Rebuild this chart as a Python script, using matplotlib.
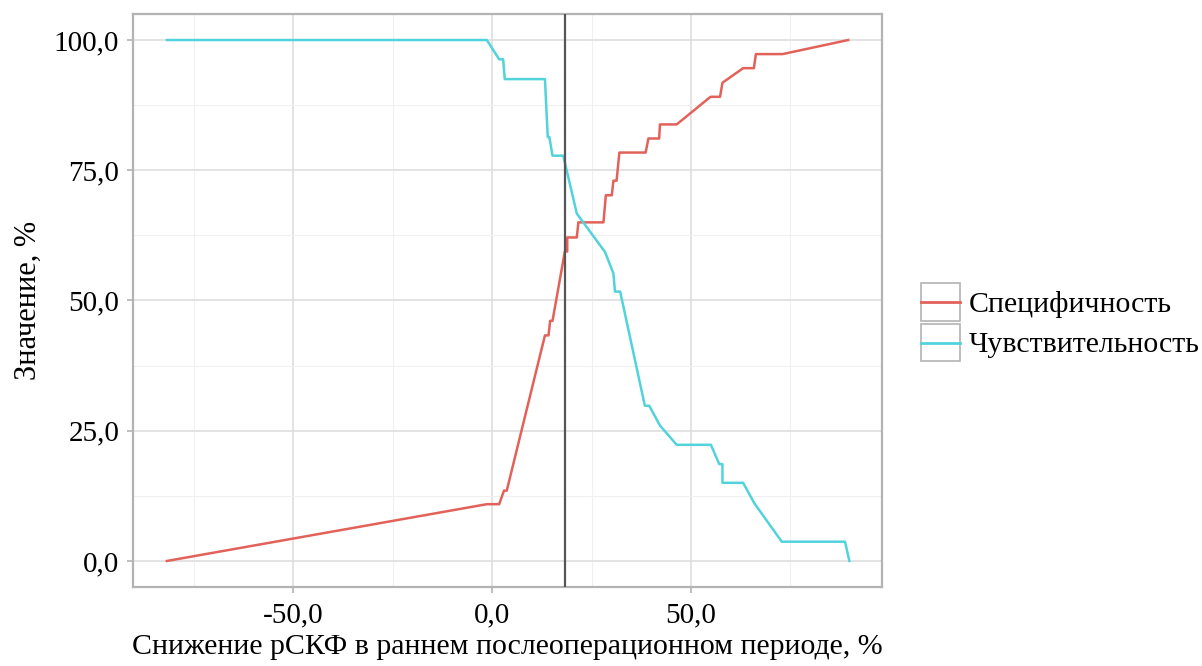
import matplotlib.pyplot as plt
from matplotlib.ticker import FuncFormatter, MultipleLocator
from matplotlib.lines import Line2D
from matplotlib.patches import Rectangle
from matplotlib.legend_handler import HandlerBase

# Specificity curve (x = threshold %, y = value %)
spec_x = [-81.7, -1.3, 1.8, 3.0, 3.7, 13.3, 14.2, 14.6, 15.2, 18.3, 18.9, 18.9,
          21.3, 21.7, 28.0, 28.6, 30.1, 30.5, 31.3, 32.0, 38.6, 39.3, 42.0,
          42.2, 46.4, 54.9, 57.3, 57.9, 63.1, 65.8, 66.3, 73.0, 89.5]
spec_y = [0.0, 10.9, 10.9, 13.5, 13.5, 43.3, 43.3, 46.1, 46.1, 59.4, 59.4, 62.1,
          62.1, 65.0, 65.0, 70.2, 70.2, 73.0, 73.0, 78.4, 78.4, 81.1, 81.1,
          83.8, 83.8, 89.1, 89.1, 91.8, 94.6, 94.6, 97.3, 97.3, 100.0]

# Sensitivity curve
sens_x = [-81.7, -1.3, 1.8, 2.8, 3.2, 13.3, 14.0, 14.4, 15.2, 17.9, 21.3, 28.4,
          30.5, 30.9, 31.7, 32.2, 38.4, 39.5, 42.2, 46.4, 55.0, 57.1, 57.9,
          57.9, 63.1, 65.9, 72.8, 88.7, 89.8]
sens_y = [100.0, 100.0, 96.3, 96.3, 92.5, 92.5, 81.4, 81.4, 77.8, 77.8, 66.7, 59.3,
          55.2, 51.7, 51.7, 51.7, 29.8, 29.8, 26.0, 22.3, 22.3, 18.6, 18.6,
          15.0, 15.0, 11.1, 3.7, 3.7, 0.0]

cutoff = 18.3

plt.rcParams['font.family'] = ['Liberation Serif', 'DejaVu Serif']

red = '#E2625A'
cyan = '#52D3DC'
FS = 21.5


# legend key: grey box with a horizontal line through it
class BoxLineHandler(HandlerBase):
    def create_artists(self, legend, orig, xdescent, ydescent, width, height, fontsize, trans):
        box = Rectangle((-xdescent, -ydescent), width, height, facecolor='white',
                        edgecolor='#B3B3B3', lw=1.2, transform=trans)
        ln = Line2D([-xdescent, -xdescent + width], [-ydescent + height / 2] * 2,
                    color=orig.get_color(), lw=2.0, transform=trans)
        return [box, ln]


fig = plt.figure(figsize=(12.02, 6.66), dpi=100)
ax = fig.add_axes([0.1107, 0.1186, 0.6231, 0.8604])

ax.plot(spec_x, spec_y, color=red, lw=1.8, zorder=3)
ax.plot(sens_x, sens_y, color=cyan, lw=1.8, zorder=3)
ax.axvline(cutoff, color='#555555', lw=1.6, zorder=4)

ax.set_xlim(-90.2, 98.0)
ax.set_ylim(-5.0, 105.0)
ax.xaxis.set_major_locator(MultipleLocator(50))
ax.xaxis.set_minor_locator(MultipleLocator(25))
ax.yaxis.set_major_locator(MultipleLocator(25))
ax.yaxis.set_minor_locator(MultipleLocator(12.5))
fmt = FuncFormatter(lambda v, p: f'{v:.1f}'.replace('.', ','))
ax.xaxis.set_major_formatter(fmt)
ax.yaxis.set_major_formatter(fmt)

ax.grid(which='major', color='#DEDEDE', lw=1.2, zorder=0)
ax.grid(which='minor', color='#F0F0F0', lw=0.8, zorder=0)
ax.set_axisbelow(True)
for s in ax.spines.values():
    s.set_color('#B3B3B3')
    s.set_linewidth(1.6)
ax.tick_params(which='major', length=4, width=1.2, color='#B3B3B3',
               labelsize=21, labelcolor='black')
ax.tick_params(axis='x', pad=7)
ax.tick_params(axis='y', pad=6)
ax.tick_params(which='minor', length=0)

ax.set_xlabel('Снижение рСКФ в раннем послеоперационном периоде, %', fontsize=FS, labelpad=4)
ax.set_ylabel('Значение, %', fontsize=22, labelpad=8)

handles = [Line2D([], [], color=red), Line2D([], [], color=cyan)]
leg = fig.legend(handles, ['Специфичность', 'Чувствительность'], loc='center left',
                 bbox_to_anchor=(0.766, 0.516), frameon=False, fontsize=FS,
                 handler_map={Line2D: BoxLineHandler()},
                 handlelength=1.3, handleheight=1.55, handletextpad=0.3,
                 labelspacing=0.1, borderpad=0, borderaxespad=0)

fig.savefig('out.png', dpi=100)
